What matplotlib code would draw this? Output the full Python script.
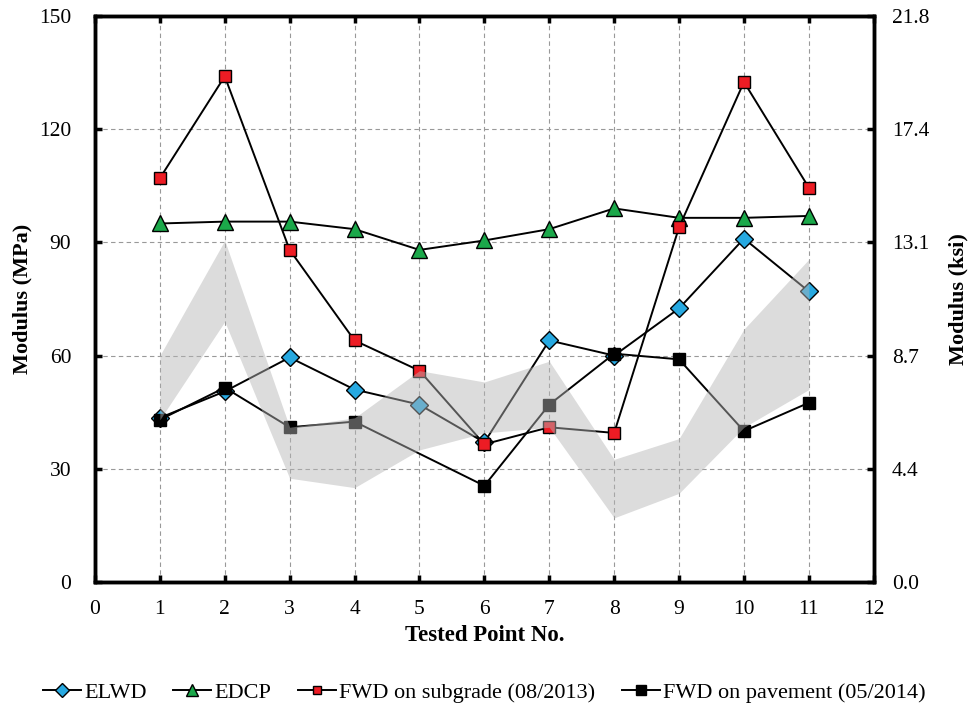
import numpy as np
import matplotlib.pyplot as plt

plt.rcParams['font.family'] = ['Liberation Serif', 'DejaVu Serif']

# Data
points = [1, 2, 3, 4, 5, 6, 7, 8, 9, 10, 11]
elwd = [43.5, 50.5, 59.5, 51, 47, 37, 64, 60, 72.5, 91, 77]
edcp = [95, 95.5, 95.5, 93.5, 88, 90.5, 93.5, 99, 96.5, 96.5, 97]
fwd_sub = [107, 134, 88, 64, 56, 36.5, 41, 39.5, 94, 132.5, 104.5]
# no pavement reading at point 5
pav_points = [1, 2, 3, 4, 6, 7, 8, 9, 10, 11]
fwd_pav = [43, 51.5, 41, 42.5, 25.5, 47, 60.5, 59, 40, 47.5]

# shaded band (upper / lower edge)
band_hi = [60, 90.5, 41, 43.5, 56, 53, 58.5, 32.5, 38, 67, 85.5]
band_lo = [43, 69, 27.5, 25, 35, 39.5, 41, 17, 23.5, 41, 51]

mpa_ticks = [0, 30, 60, 90, 120, 150]
ksi_labels = ["0.0", "4.4", "8.7", "13.1", "17.4", "21.8"]

fig = plt.figure(figsize=(9.73, 7.12), dpi=100)
ax = fig.add_axes([0.0976, 0.1826, 0.8004, 0.795])

ax.plot(points, elwd, color='black', lw=1.4, marker='D', ms=9,
        mfc='#27a9e1', mec='black', mew=1.0, label='ELWD', zorder=3)
ax.plot(points, edcp, color='black', lw=1.4, marker='^', ms=12,
        mfc='#1ba84a', mec='black', mew=1.0, label='EDCP', zorder=3)
ax.plot(points, fwd_sub, color='black', lw=1.4, marker='s', ms=8.5,
        mfc='#ed1c24', mec='black', mew=1.0, label='FWD on subgrade (08/2013)', zorder=3)
ax.plot(pav_points, fwd_pav, color='black', lw=1.4, marker='s', ms=9,
        mfc='black', mec='black', mew=1.0, label='FWD on pavement (05/2014)', zorder=3)

# gray band drawn over the lines
ax.fill_between(points, band_lo, band_hi, color='#b5b5b5', alpha=0.47, lw=0, zorder=4)

ax.set_xlim(0, 12)
ax.set_ylim(0, 150)
ax.set_xticks(range(0, 13))
ax.set_yticks(mpa_ticks)
ax.grid(True, ls=(0, (4, 3)), color='#999999', lw=0.8)
ax.set_axisbelow(True)
ax.tick_params(direction='in', length=5, width=2.5, labelsize=15.5, top=True)
ax.tick_params(axis='x', labeltop=False, pad=13)
ax.tick_params(axis='y', pad=17)
for s in ax.spines.values():
    s.set_linewidth(2.5)

ax.set_xlabel('Tested Point No.', fontsize=16.5, fontweight='bold', labelpad=4)
ax.set_ylabel('Modulus (MPa)', fontsize=16, fontweight='bold', labelpad=5)

ax2 = ax.twinx()
ax2.set_ylim(0, 150)
ax2.set_yticks(mpa_ticks)
ax2.set_yticklabels(ksi_labels)
ax2.tick_params(direction='in', length=5, width=2.5, labelsize=15.5, pad=13)
for s in ax2.spines.values():
    s.set_linewidth(2.5)
ax2.set_ylabel('Modulus (ksi)', fontsize=16, fontweight='bold', labelpad=14)

ax.legend(loc='center', bbox_to_anchor=(0.5, -0.195), ncol=4, frameon=False,
          fontsize=16, handlelength=1.7, handletextpad=0.15, columnspacing=1.2,
          markerscale=0.75)

fig.savefig('out.png', dpi=100)
